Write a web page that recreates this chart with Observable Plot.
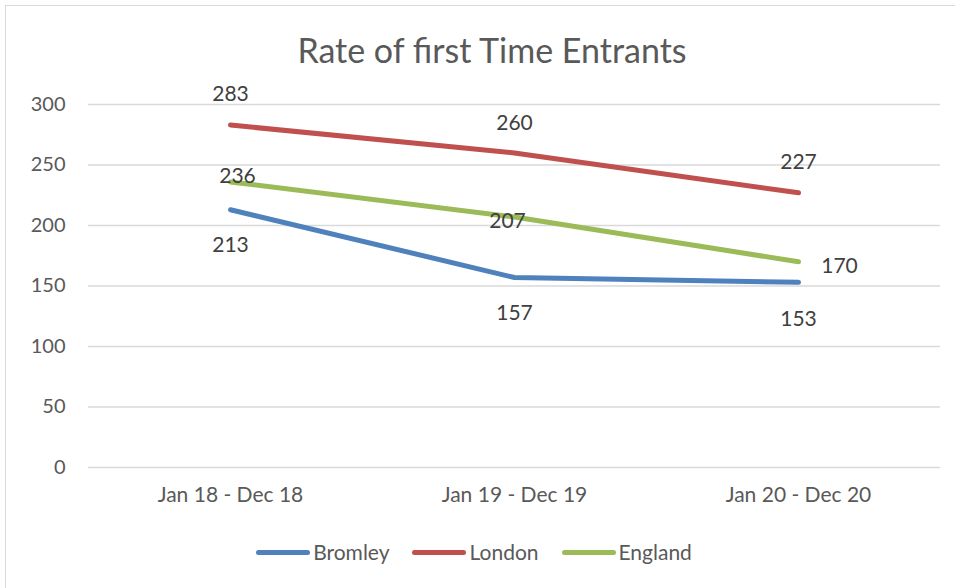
<!DOCTYPE html>
<html><head><meta charset="utf-8">
<script src="https://cdn.jsdelivr.net/npm/d3@7"></script>
<script src="https://cdn.jsdelivr.net/npm/@observablehq/plot@0.6"></script>
<style>
body{margin:0;background:#fff;font-family:Lato,"Open Sans",sans-serif}
#chart{position:relative;width:955px;height:588px;overflow:hidden;background:#fff}
#frame{position:absolute;left:5px;top:5px;width:980px;height:620px;border:1px solid #d9d9d9;box-sizing:border-box}
#title{position:absolute;top:30px;left:0;width:984px;text-align:center;font-size:34px;color:#595959;line-height:40px}
#plot{position:absolute;top:80px;left:0}
#legend{position:absolute;top:538px;left:0;width:948px;display:flex;justify-content:center;gap:23px;font-size:21px;color:#595959;line-height:28px}
.item{display:flex;align-items:center}
.sw{width:54px;height:5px;border-radius:3px;margin-right:3px}
</style></head>
<body>
<div id="chart">
  <div id="frame"></div>
  <div id="title">Rate of first Time Entrants</div>
  <div id="plot"></div>
  <div id="legend"></div>
</div>
<script>
const categories = ["Jan 18 - Dec 18", "Jan 19 - Dec 19", "Jan 20 - Dec 20"];
const seriesNames = ["Bromley", "London", "England"];
const bromley = [213, 157, 153];
const london = [283, 260, 227];
const england = [236, 207, 170];
const yTicks = [0, 50, 100, 150, 200, 250, 300];
const colors = ["#4F81BD", "#C0504D", "#9BBB59"];

const valuesBySeries = {Bromley: bromley, London: london, England: england};
const rows = seriesNames.flatMap(s => valuesBySeries[s].map((v, i) => ({series: s, cat: categories[i], value: v, i})));

// label placement (style): offsets per series & point
const labelOffsets = {
  Bromley: [[0, 35], [0, 36], [0, 37]],
  London: [[0, -31], [0, -30], [0, -31]],
  England: [[7, -6], [-7, 4], [41, 4]]
};
const labelMarks = rows.map(r => Plot.text([r], {
  x: "cat", y: "value", text: d => String(d.value),
  dx: labelOffsets[r.series][r.i][0], dy: labelOffsets[r.series][r.i][1],
  fontSize: 21, fill: "#404040"
}));

const plot = Plot.plot({
  width: 955, height: 440,
  marginLeft: 88, marginRight: 15, marginTop: 24, marginBottom: 53,
  style: {fontFamily: "Lato, 'Open Sans', sans-serif", color: "#595959", background: "transparent"},
  x: {type: "point", domain: categories, padding: 0.5},
  y: {domain: [0, 300]},
  color: {domain: seriesNames, range: colors},
  marks: [
    Plot.ruleY(yTicks, {stroke: "#d9d9d9", strokeWidth: 1.5}),
    Plot.axisY(yTicks, {tickSize: 0, tickPadding: 23, fontSize: 20, label: null}),
    Plot.axisX({tickSize: 0, tickPadding: 20, fontSize: 21, label: null}),
    Plot.line(rows, {x: "cat", y: "value", z: "series", stroke: "series", strokeWidth: 5, strokeLinecap: "round", strokeLinejoin: "round"}),
    ...labelMarks
  ]
});
document.getElementById("plot").appendChild(plot);

const legend = document.getElementById("legend");
seriesNames.forEach((s, i) => {
  const it = document.createElement("div"); it.className = "item";
  const sw = document.createElement("div"); sw.className = "sw"; sw.style.background = colors[i];
  const t = document.createElement("span"); t.textContent = s;
  it.appendChild(sw); it.appendChild(t); legend.appendChild(it);
});
</script>
</body></html>
